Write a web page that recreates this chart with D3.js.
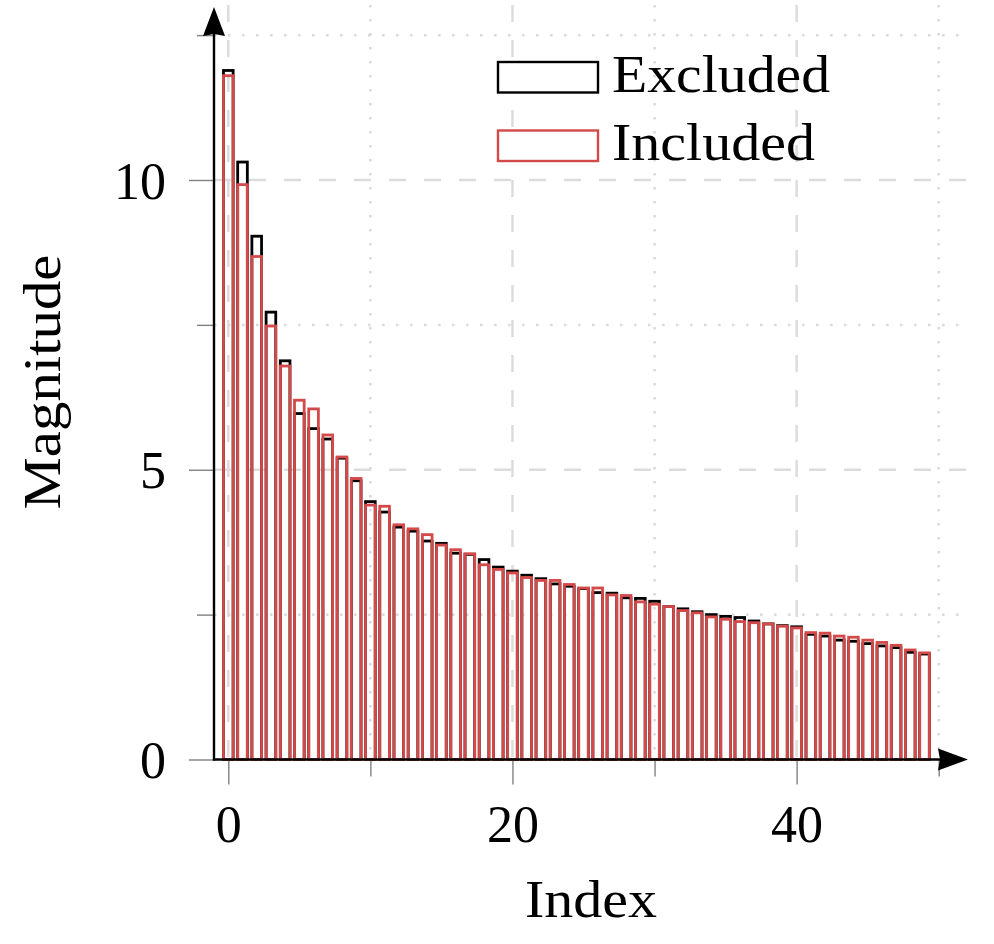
<!DOCTYPE html>
<html>
<head>
<meta charset="utf-8">
<script src="https://cdn.jsdelivr.net/npm/d3@7"></script>
<style>
  body { margin: 0; background: #fff; }
  text { font-family: "Liberation Serif", "Times New Roman", serif; fill: #000; }
</style>
</head>
<body>
<div id="chart"></div>
<script>
// 数据
const indices = d3.range(50);
const excluded = [11.89, 10.31, 9.03, 7.72, 6.88, 5.97, 5.71, 5.53, 5.20, 4.81,
    4.45, 4.27, 4.01, 3.94, 3.77, 3.73, 3.56, 3.54, 3.45, 3.32,
    3.25, 3.18, 3.12, 3.03, 2.99, 2.95, 2.88, 2.87, 2.79, 2.78,
    2.73, 2.64, 2.60, 2.55, 2.50, 2.47, 2.45, 2.39, 2.34, 2.31,
    2.29, 2.16, 2.13, 2.06, 2.04, 2.00, 1.96, 1.93, 1.85, 1.82];
const included = [11.80, 9.92, 8.68, 7.48, 6.79, 6.20, 6.05, 5.60, 5.22, 4.85,
    4.39, 4.37, 4.05, 3.98, 3.88, 3.70, 3.62, 3.55, 3.36, 3.28,
    3.22, 3.14, 3.09, 3.09, 3.02, 2.96, 2.96, 2.84, 2.83, 2.72,
    2.68, 2.64, 2.57, 2.53, 2.46, 2.42, 2.38, 2.36, 2.34, 2.30,
    2.27, 2.19, 2.18, 2.13, 2.11, 2.06, 2.02, 1.97, 1.89, 1.84];
const series_names = ["Excluded", "Included"];
const x_major = [0, 20, 40];
const x_minor = [10, 30, 50];
const y_major = [0, 5, 10];
const y_minor = [2.5, 7.5, 12.5];

//绘图属性
const width = 994;
const height = 944;
const colors = ["#000000", "#d44a4a"];
const font_size = 52;

const x = d3.scaleLinear().domain([0, 50]).range([228.3, 938.7]);
const y = d3.scaleLinear().domain([0, 10]).range([759.5, 180]);
const x0 = 214, x1 = 970;   // 绘图区左右
const y_top = 5;

var svg = d3.select("#chart").append("svg")
    .attr("width", width).attr("height", height);

// 网格
var grid = svg.append("g").attr("id", "grid");
grid.selectAll(".vmaj").data(x_major).enter().append("line")
    .attr("x1", d => x(d)).attr("x2", d => x(d))
    .attr("y1", y_top).attr("y2", y(0))
    .attr("stroke", "#dcdcdc").attr("stroke-width", 2.5)
    .attr("stroke-dasharray", "17,18");
grid.selectAll(".vmin").data(x_minor).enter().append("line")
    .attr("x1", d => x(d)).attr("x2", d => x(d))
    .attr("y1", y_top).attr("y2", y(0))
    .attr("stroke", "#dadada").attr("stroke-width", 2.5)
    .attr("stroke-dasharray", "2.5,11.5");
grid.selectAll(".hmaj").data(y_major.filter(d => d > 0)).enter().append("line")
    .attr("x1", x0).attr("x2", x1)
    .attr("y1", d => y(d)).attr("y2", d => y(d))
    .attr("stroke", "#dcdcdc").attr("stroke-width", 2.5)
    .attr("stroke-dasharray", "17,18");
grid.selectAll(".hmin").data(y_minor).enter().append("line")
    .attr("x1", x0).attr("x2", x1)
    .attr("y1", d => y(d)).attr("y2", d => y(d))
    .attr("stroke", "#dadada").attr("stroke-width", 2.5)
    .attr("stroke-dasharray", "2.5,11.5");

// 柱子
const bar_w = x(0.68) - x(0);
[excluded, included].forEach(function (vals, k) {
    svg.append("g").attr("class", "bars")
        .selectAll("rect")
        .data(vals)
        .enter()
        .append("rect")
        .attr("x", (d, i) => x(indices[i]) - bar_w / 2)
        .attr("y", d => y(d))
        .attr("width", bar_w)
        .attr("height", d => y(0) - y(d))
        .attr("fill", "none")
        .attr("stroke", colors[k])
        .attr("stroke-width", 2.8);
});

// 坐标轴刻度
function style_axis(g) {
    g.select(".domain").remove();
    g.selectAll(".tick line").attr("stroke", "#808080").attr("stroke-width", 1.4);
}

svg.append("g").attr("transform", "translate(0," + y(0) + ")")
    .call(d3.axisBottom(x).tickValues(x_minor).tickSize(17).tickFormat(""))
    .call(style_axis);
svg.append("g").attr("transform", "translate(0," + y(0) + ")")
    .call(d3.axisBottom(x).tickValues(x_major).tickSize(25).tickFormat(d3.format("d")))
    .call(style_axis)
    .call(g => g.selectAll(".tick text")
        .attr("y", 82).attr("dy", 0)
        .style("font-size", font_size + "px")
        .style("font-family", "Liberation Serif, serif")
        .attr("fill", "#000"));

svg.append("g").attr("transform", "translate(" + x0 + ",0)")
    .call(d3.axisLeft(y).tickValues(y_minor).tickSize(17).tickFormat(""))
    .call(style_axis);
svg.append("g").attr("transform", "translate(" + x0 + ",0)")
    .call(d3.axisLeft(y).tickValues(y_major).tickSize(25).tickFormat(d3.format("d")))
    .call(style_axis)
    .call(g => g.selectAll(".tick text")
        .attr("x", -48).attr("dy", 18)
        .style("font-size", font_size + "px")
        .style("font-family", "Liberation Serif, serif")
        .attr("fill", "#000"));

// 轴线和箭头
svg.append("path")
    .attr("d", "M" + x0 + "," + y(0) + " H" + (x1 - 25))
    .attr("stroke", "#000").attr("stroke-width", 2.4).attr("fill", "none");
svg.append("path")
    .attr("d", "M" + x0 + "," + (y(0) + 1.2) + " V" + (y_top + 25))
    .attr("stroke", "#000").attr("stroke-width", 2.4).attr("fill", "none");
svg.append("path")
    .attr("d", `M${x1 - 2},${y(0)} L${x1 - 32},${y(0) - 11} L${x1 - 30},${y(0)} L${x1 - 32},${y(0) + 11} Z`)
    .attr("fill", "#000");
svg.append("path")
    .attr("d", `M${x0},${y_top + 2} L${x0 - 11},${y_top + 31} L${x0},${y_top + 29} L${x0 + 11},${y_top + 31} Z`)
    .attr("fill", "#000");

// 轴标题
svg.append("text")
    .attr("x", 591).attr("y", 917)
    .attr("text-anchor", "middle")
    .attr("textLength", 132).attr("lengthAdjust", "spacingAndGlyphs")
    .style("font-size", font_size + "px")
    .text("Index");
svg.append("text")
    .attr("transform", "translate(60,382) rotate(-90)")
    .attr("text-anchor", "middle")
    .attr("textLength", 255).attr("lengthAdjust", "spacingAndGlyphs")
    .style("font-size", font_size + "px")
    .text("Magnitude");

// 图例
var legend = svg.append("g").attr("id", "legend");
const legend_text_len = [218, 203];
series_names.forEach(function (name, k) {
    let ly = 62 + k * 68.5;
    legend.append("rect")
        .attr("x", 498).attr("y", ly)
        .attr("width", 100).attr("height", 30.5)
        .attr("fill", "#fff")
        .attr("stroke", colors[k]).attr("stroke-width", 2.4);
    legend.append("text")
        .attr("x", 612).attr("y", ly + 29.5)
        .attr("textLength", legend_text_len[k]).attr("lengthAdjust", "spacingAndGlyphs")
        .style("font-size", font_size + "px")
        .text(name);
});
</script>
</body>
</html>
